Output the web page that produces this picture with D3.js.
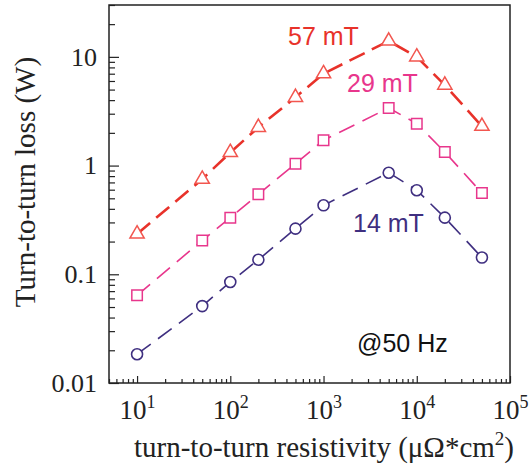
<!DOCTYPE html>
<html>
<head>
<meta charset="utf-8">
<script src="https://cdn.jsdelivr.net/npm/d3@7"></script>
<style>
  body { margin: 0; background: #fff; }
  svg { display: block; }
</style>
</head>
<body>
<div id="chart"></div>
<script>
// resistivity (µΩ·cm²) on x, loss (W) on y, both log
const resistivity = [10, 50, 100, 200, 500, 1000, 5000, 10000, 20000, 50000];
const loss57 = [0.235, 0.75, 1.32, 2.25, 4.25, 7.0, 14.0, 10.0, 5.5, 2.3];
const loss29 = [0.064, 0.205, 0.332, 0.544, 1.04, 1.71, 3.39, 2.43, 1.33, 0.56];
const loss14 = [0.0184, 0.051, 0.085, 0.136, 0.263, 0.431, 0.86, 0.593, 0.332, 0.1425];

const yTickVals   = [0.01, 0.1, 1, 10];
const yTickLabels = ["0.01", "0.1", "1", "10"];
const xTickExps   = [1, 2, 3, 4, 5];

const series = [
  { name: "57 mT", vals: loss57, line: "#e8322a", mark: "#f2564f", shape: "tri",  lw: 2.6, dash: "17,8" },
  { name: "29 mT", vals: loss29, line: "#e8368c", mark: "#e8368c", shape: "sq",   lw: 1.6, dash: "17,9" },
  { name: "14 mT", vals: loss14, line: "#3f2f80", mark: "#3f2f80", shape: "circ", lw: 1.6, dash: "17,9" }
];

const W = 529, H = 471;
const margin = { top: 5, right: 19, bottom: 88, left: 109 };

const svg = d3.select("#chart").append("svg")
  .attr("width", W).attr("height", H);

const x = d3.scaleLog().domain([5, 1e5]).range([margin.left, W - margin.right]);
const y = d3.scaleLog().domain([0.01, 30]).range([H - margin.bottom, margin.top]);

const serif = "'Liberation Serif', 'Times New Roman', serif";
const sans  = "'Liberation Sans', Arial, sans-serif";

const isMajor = v => Math.abs(Math.log10(v) - Math.round(Math.log10(v))) < 1e-9;

// x axis: minor + major ticks pointing inside
const xAll = x.ticks(40);
svg.append("g")
  .attr("transform", `translate(0,${y.range()[0]})`)
  .call(d3.axisBottom(x).tickValues(xAll.filter(v => !isMajor(v))).tickSize(-4).tickFormat(""))
  .call(g => g.select(".domain").remove())
  .selectAll("line").attr("stroke", "#222").attr("stroke-width", 1.2);

svg.append("g")
  .attr("transform", `translate(0,${y.range()[0]})`)
  .call(d3.axisBottom(x).tickValues(xTickExps.map(e => Math.pow(10, e))).tickSize(-7).tickPadding(24).tickFormat(""))
  .call(g => g.select(".domain").remove())
  .call(g => g.selectAll("line").attr("stroke", "#222").attr("stroke-width", 1.2))
  .call(g => g.selectAll("text").each(function(d, i) {
    const t = d3.select(this)
      .attr("font-family", serif).attr("font-size", 27).attr("fill", "#222")
      .attr("dy", 0).attr("y", 36);
    t.append("tspan").text("10");
    t.append("tspan").attr("dy", -11).attr("font-size", 18).text(xTickExps[i]);
  }));

// y axis
const yAll = y.ticks(40);
svg.append("g")
  .attr("transform", `translate(${x.range()[0]},0)`)
  .call(d3.axisLeft(y).tickValues(yAll.filter(v => !isMajor(v))).tickSize(-6).tickFormat(""))
  .call(g => g.select(".domain").remove())
  .selectAll("line").attr("stroke", "#222").attr("stroke-width", 1.2);

svg.append("g")
  .attr("transform", `translate(${x.range()[0]},0)`)
  .call(d3.axisLeft(y).tickValues(yTickVals).tickSize(-10).tickPadding(12)
    .tickFormat((d, i) => yTickLabels[i]))
  .call(g => g.select(".domain").remove())
  .call(g => g.selectAll("line").attr("stroke", "#222").attr("stroke-width", 1.2))
  .call(g => g.selectAll("text").attr("font-family", serif).attr("font-size", 26).attr("fill", "#222"));

// frame
svg.append("rect")
  .attr("x", x.range()[0]).attr("y", y.range()[1])
  .attr("width", x.range()[1] - x.range()[0])
  .attr("height", y.range()[0] - y.range()[1])
  .attr("fill", "none").attr("stroke", "#222").attr("stroke-width", 1.5);

// lines
const line = d3.line().x(d => x(d[0])).y(d => y(d[1]));
series.forEach(s => {
  const pts = resistivity.map((r, i) => [r, s.vals[i]]);
  svg.append("path")
    .attr("d", line(pts))
    .attr("fill", "none")
    .attr("stroke", s.line)
    .attr("stroke-width", s.lw)
    .attr("stroke-dasharray", s.dash);

  const g = svg.append("g");
  if (s.shape === "circ") {
    g.selectAll("circle").data(pts).join("circle")
      .attr("cx", d => x(d[0])).attr("cy", d => y(d[1])).attr("r", 5.5)
      .attr("fill", "#fff").attr("stroke", s.mark).attr("stroke-width", 1.6);
  } else {
    const sym = s.shape === "tri"
      ? d3.symbol().type(d3.symbolTriangle).size(88)
      : d3.symbol().type(d3.symbolSquare).size(110);
    g.selectAll("path").data(pts).join("path")
      .attr("d", sym)
      .attr("transform", d => `translate(${x(d[0])},${y(d[1])})`)
      .attr("fill", "#fff").attr("stroke", s.mark).attr("stroke-width", 1.5);
  }
});

// annotations
const notes = [
  { text: "57 mT", x: 288, y: 45, c: "#e8322a" },
  { text: "29 mT", x: 347, y: 92, c: "#e8368c" },
  { text: "14 mT", x: 353, y: 232, c: "#3f2f80" },
  { text: "@50 Hz", x: 357, y: 352, c: "#111" }
];
svg.append("g").selectAll("text").data(notes).join("text")
  .attr("x", d => d.x).attr("y", d => d.y)
  .attr("font-family", sans).attr("font-size", 25)
  .attr("fill", d => d.c)
  .text(d => d.text);

// axis titles
svg.append("text")
  .attr("transform", "translate(35,182) rotate(-90)")
  .attr("text-anchor", "middle")
  .attr("font-family", serif).attr("font-size", 29).attr("fill", "#222")
  .text("Turn-to-turn loss (W)");

const xt = svg.append("text")
  .attr("x", 324).attr("y", 457)
  .attr("text-anchor", "middle")
  .attr("font-family", serif).attr("font-size", 29).attr("fill", "#222");
xt.append("tspan").text("turn-to-turn resistivity (\u03bc\u03a9*cm");
xt.append("tspan").attr("dy", -12).attr("font-size", 19).text("2");
xt.append("tspan").attr("dy", 12).text(")");
</script>
</body>
</html>
